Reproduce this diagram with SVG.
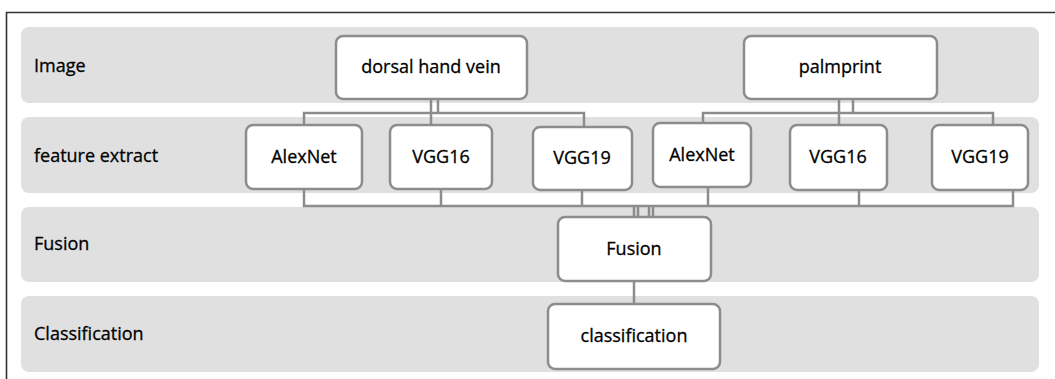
<svg xmlns="http://www.w3.org/2000/svg" width="1055" height="379" viewBox="0 0 1055 379">
<style>
.lane{fill:#e0e0e0;}
.node{fill:#ffffff;stroke:#8c8c8c;stroke-width:2.5;}
.lbl{font-family:"Open Sans","Liberation Sans",sans-serif;font-size:18px;fill:#000;stroke:#000;stroke-width:0.3;}
.nt{font-family:"Open Sans","Liberation Sans",sans-serif;font-size:18px;fill:#000;stroke:#000;stroke-width:0.3;text-anchor:middle;}
.con{fill:none;stroke:#8c8c8c;stroke-width:2.5;}
</style>
<rect width="1055" height="379" fill="#ffffff"/>
<path d="M6.5 379 V12.5 H1055" fill="none" stroke="#333" stroke-width="1.6"/>
<g id="lanes">
<rect class="lane" x="21" y="27" width="1018" height="76" rx="8"/>
<rect class="lane" x="21" y="117" width="1018" height="76" rx="8"/>
<rect class="lane" x="21" y="207" width="1018" height="75" rx="8"/>
<rect class="lane" x="21" y="296" width="1018" height="76" rx="8"/>
<text class="lbl" x="34" y="72">Image</text>
<text class="lbl" x="34" y="162">feature extract</text>
<text class="lbl" x="34" y="250">Fusion</text>
<text class="lbl" x="34" y="340">Classification</text>
</g>
<g id="connectors">
<path class="con" d="M304 125 V113 H584 V127"/>
<path class="con" d="M431 99 V125"/>
<path class="con" d="M438 99 V113"/>
<path class="con" d="M703 123 V113 H993 V125"/>
<path class="con" d="M839 99 V125"/>
<path class="con" d="M853 99 V113"/>
<path class="con" d="M304 189 V206 H1013 V190"/>
<path class="con" d="M441 189 V206"/>
<path class="con" d="M582 190 V206"/>
<path class="con" d="M708 187 V206"/>
<path class="con" d="M859 190 V206"/>
<path class="con" d="M634 206 V217"/>
<path class="con" d="M638 206 V217"/>
<path class="con" d="M649 206 V217"/>
<path class="con" d="M653 206 V217"/>
<path class="con" d="M634 281 V304"/>
</g>
<g id="n-dorsal"><rect class="node" x="336" y="36" width="191" height="63" rx="7"/><text class="nt" x="431" y="73">dorsal hand vein</text></g>
<g id="n-palm"><rect class="node" x="744" y="36" width="193" height="63" rx="7"/><text class="nt" x="840" y="73">palmprint</text></g>
<g id="n-alex1"><rect class="node" x="246" y="125" width="116" height="64" rx="7"/><text class="nt" x="304" y="163">AlexNet</text></g>
<g id="n-vgg16a"><rect class="node" x="390" y="125" width="102" height="64" rx="7"/><text class="nt" x="441" y="163">VGG16</text></g>
<g id="n-vgg19a"><rect class="node" x="533" y="127" width="99" height="63" rx="7"/><text class="nt" x="582" y="164">VGG19</text></g>
<g id="n-alex2"><rect class="node" x="653" y="123" width="98" height="64" rx="7"/><text class="nt" x="702" y="161">AlexNet</text></g>
<g id="n-vgg16b"><rect class="node" x="790" y="125" width="97" height="65" rx="7"/><text class="nt" x="838" y="163">VGG16</text></g>
<g id="n-vgg19b"><rect class="node" x="932" y="125" width="96" height="65" rx="7"/><text class="nt" x="980" y="163">VGG19</text></g>
<g id="n-fusion"><rect class="node" x="558" y="217" width="153" height="64" rx="7"/><text class="nt" x="634" y="255">Fusion</text></g>
<g id="n-class"><rect class="node" x="548" y="304" width="172" height="65" rx="7"/><text class="nt" x="634" y="342">classification</text></g>
</svg>
